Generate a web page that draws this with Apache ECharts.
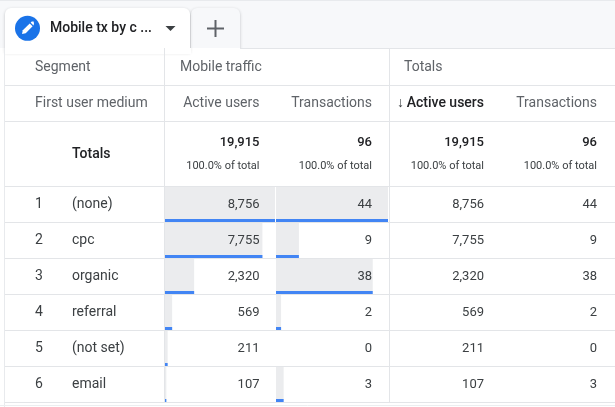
<!DOCTYPE html>
<html>
<head>
<meta charset="utf-8">
<style>html,body{margin:0;padding:0;background:#fff}#main{width:615px;height:407px}</style>
<script src="https://cdn.jsdelivr.net/npm/echarts@6/dist/echarts.min.js"></script>
</head>
<body>
<div id="main"></div>
<script>
var ranks = ['1', '2', '3', '4', '5', '6'];
var mediums = ['(none)', 'cpc', 'organic', 'referral', '(not set)', 'email'];
var activeUsers = [8756, 7755, 2320, 569, 211, 107];
var transactions = [44, 9, 38, 2, 0, 3];
var totalUsers = '19,915';
var totalTx = '96';
var totalPct = '100.0% of total';

var myChart = echarts.init(document.getElementById('main'));
var FONT = 'Roboto';
var LINE = '#e3e5e8';
var els = [];

function txt(s, x, y, o) {
    o = o || {};
    els.push({
        type: 'text', z: 10, silent: true,
        style: {
            text: s, x: x, y: y + 1,
            align: o.align || 'left', verticalAlign: 'middle',
            fontFamily: FONT, fontSize: o.size || 14, fontWeight: o.weight || 400,
            fill: o.color || '#5f6368'
        }
    });
}
function rect(x, y, w, h, fill, extra) {
    var e = { type: 'rect', z: extra && extra.z || 1, silent: true, shape: { x: x, y: y, width: w, height: h, r: extra && extra.r || 0 }, style: { fill: fill } };
    if (extra && extra.shadow) {
        e.style.shadowBlur = 3; e.style.shadowColor = 'rgba(60,64,67,.3)'; e.style.shadowOffsetY = 1;
    }
    els.push(e);
}
function line(x1, y1, x2, y2, color, z) {
    els.push({ type: 'line', z: z || 5, silent: true, shape: { x1: x1, y1: y1, x2: x2, y2: y2 }, style: { stroke: color || LINE, lineWidth: 1 } });
}

// page and tab strip
rect(0, 1, 615, 47, '#f7f8fa');
rect(0, 0, 615, 1, '#e8eaed');
rect(191, 8, 49, 43, '#f7f8fa', { r: [6, 6, 0, 0], shadow: true, z: 2 });
rect(0, 48, 615, 359, '#ffffff', { z: 3 });
rect(5, 8, 185, 44, '#ffffff', { r: [6, 6, 0, 0], shadow: true, z: 3 });
rect(5, 48, 186, 6, '#ffffff', { z: 3 });

// edit icon
els.push({ type: 'circle', z: 6, silent: true, shape: { cx: 27.5, cy: 28.3, r: 12.5 }, style: { fill: '#1a73e8' } });
els.push({ type: 'polygon', z: 7, silent: true, shape: { points: [[22, 34], [22.8, 30.3], [29.7, 23.4], [32.6, 26.3], [25.7, 33.2]] }, style: { fill: '#fff' } });
els.push({ type: 'polygon', z: 7, silent: true, shape: { points: [[30.6, 22.5], [31.8, 21.5], [33.6, 21.5], [34, 23.5], [33.5, 25.4]] }, style: { fill: '#fff' } });
txt('Mobile tx by c ...', 50, 27.5, { weight: 500, color: '#202124' });
els.push({ type: 'polygon', z: 7, silent: true, shape: { points: [[165.5, 26], [175.5, 26], [170.5, 31]] }, style: { fill: '#3c4043' } });
rect(207, 27.5, 17, 2, '#5f6368', { z: 7 });
rect(214.5, 20, 2, 17, '#5f6368', { z: 7 });

// table rules
line(4.5, 48, 4.5, 407, '#e8eaed');
line(164.5, 48, 164.5, 403);
line(389.5, 48, 389.5, 403);
line(240, 48.5, 615, 48.5);
[85.5, 121.5, 186.5, 222.5, 258.5, 294.5, 330.5, 366.5, 402.5].forEach(function (y) { line(5, y, 615, y); });
line(0, 405.5, 615, 405.5, '#eceef0');

// headers
txt('Segment', 35, 66);
txt('Mobile traffic', 180, 66);
txt('Totals', 404, 66);
txt('First user medium', 35, 102);
txt('Active users', 259.5, 102, { align: 'right' });
txt('Transactions', 372, 102, { align: 'right' });
txt('\u2193', 400.5, 102, { align: 'center', size: 14, color: '#3c4043' });
txt('Active users', 484, 102, { align: 'right', weight: 500, color: '#202124' });
txt('Transactions', 597, 102, { align: 'right' });

// totals row
txt('Totals', 72, 153, { weight: 500, color: '#202124' });
[[259.5, totalUsers], [372, totalTx], [484, totalUsers], [597, totalTx]].forEach(function (c) {
    txt(c[1], c[0], 142, { align: 'right', weight: 500, size: 13, color: '#202124' });
    txt(totalPct, c[0], 165, { align: 'right', size: 11, color: '#3c4043' });
});

// rows
ranks.forEach(function (r, i) {
    var y = 203 + i * 36;
    txt(r, 39, y, { align: 'center', color: '#3c4043' });
    txt(mediums[i], 72, y, { color: '#3c4043' });
    var u = activeUsers[i].toLocaleString('en-US');
    var t = String(transactions[i]);
    txt(u, 259.5, y + 1, { align: 'right', size: 13, color: '#3c4043' });
    txt(t, 372, y + 1, { align: 'right', size: 13, color: '#3c4043' });
    txt(u, 484, y + 1, { align: 'right', size: 13, color: '#3c4043' });
    txt(t, 597, y + 1, { align: 'right', size: 13, color: '#3c4043' });
});

// grey cell fill with a blue strip along its bottom edge
function renderBar(params, api) {
    var end = api.coord([api.value(0), api.value(1)]);
    var band = api.size([0, 1])[1];
    var x0 = api.coord([0, api.value(1)])[0];
    var w = end[0] - x0;
    var top = end[1] - band / 2;
    return {
        type: 'group',
        children: [
            { type: 'rect', shape: { x: x0, y: top, width: w, height: band }, style: { fill: '#ebecee' } },
            { type: 'rect', shape: { x: x0, y: top + band - 3.5, width: w, height: 3 }, style: { fill: '#4285f4' } }
        ]
    };
}
function barSeries(values, idx) {
    return {
        type: 'custom', xAxisIndex: idx, yAxisIndex: idx, silent: true, z: 4,
        renderItem: renderBar,
        encode: { x: 0, y: 1 },
        data: values.map(function (v, i) { return [v, i]; })
    };
}
function hiddenY(idx) {
    return { type: 'category', gridIndex: idx, inverse: true, data: mediums, show: false };
}

var option = {
    animation: false,
    backgroundColor: '#fff',
    graphic: { elements: els },
    grid: [
        { left: 165, top: 186.5, width: 110, height: 216, containLabel: false },
        { left: 276, top: 186.5, width: 112, height: 216, containLabel: false }
    ],
    xAxis: [
        { type: 'value', gridIndex: 0, min: 0, max: 8756, show: false },
        { type: 'value', gridIndex: 1, min: 0, max: 44, show: false }
    ],
    yAxis: [hiddenY(0), hiddenY(1)],
    series: [barSeries(activeUsers, 0), barSeries(transactions, 1)]
};
myChart.setOption(option);
</script>
</body>
</html>
